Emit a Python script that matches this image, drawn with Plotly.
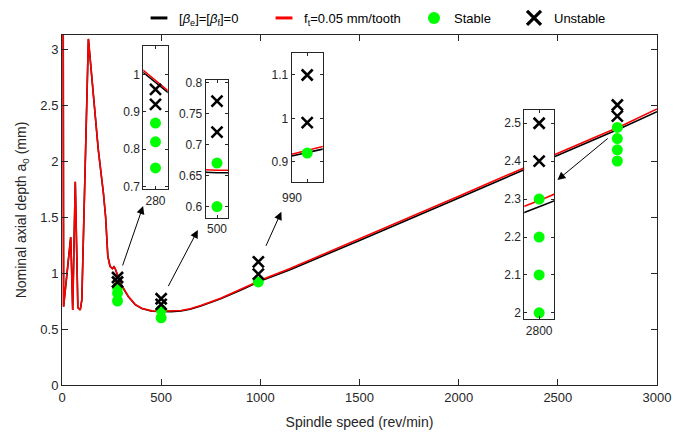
import plotly.graph_objects as go

# ---------------- data ----------------
rpm_curve = [6, 8, 44, 54, 67, 80, 92, 100, 133, 158, 183, 209, 220, 231, 242, 254, 262, 268,
             274, 280, 286, 301, 335, 369, 402, 453, 490, 500, 510, 550, 600, 646, 700, 800, 900,
             980, 990, 1000, 1150, 1500, 2000, 2500, 2780, 2800, 2820, 3000]
depth_red = [3.4, 0.70, 1.32, 0.67, 1.815, 0.69, 0.67, 0.76, 3.09, 2.57, 2.10, 1.71, 1.50, 1.15, 1.06, 1.04, 1.055, 1.04,
             1.011, 0.984, 0.956, 0.89, 0.79, 0.72, 0.685, 0.662, 0.6585, 0.6585, 0.6585, 0.659, 0.665, 0.68, 0.71, 0.775, 0.85,
             0.917, 0.926, 0.935, 1.04, 1.305, 1.685, 2.07, 2.28, 2.296, 2.3125, 2.465]
depth_black = [3.4, 0.70, 1.32, 0.67, 1.815, 0.69, 0.67, 0.76, 3.09, 2.57, 2.10, 1.71, 1.50, 1.15, 1.06, 1.04, 1.055, 1.04,
               1.005, 0.979, 0.952, 0.886, 0.787, 0.717, 0.682, 0.658, 0.6545, 0.6545, 0.6545, 0.655, 0.661, 0.676, 0.706, 0.77, 0.845,
               0.913, 0.921, 0.929, 1.03, 1.29, 1.67, 2.05, 2.264, 2.28, 2.295, 2.44]

stable_rpm = [280, 280, 280, 500, 500, 990, 2800, 2800, 2800, 2800]
stable_depth = [0.75, 0.82, 0.87, 0.60, 0.67, 0.92, 2.0, 2.1, 2.2, 2.3]
unstable_rpm = [280, 280, 500, 500, 990, 990, 2800, 2800]
unstable_depth = [0.92, 0.96, 0.72, 0.77, 0.99, 1.10, 2.4, 2.5]

x_ticks = [0, 500, 1000, 1500, 2000, 2500, 3000]
y_ticks = [0, 0.5, 1, 1.5, 2, 2.5, 3]

# insets: x range, y range, x tick, y ticks
inset_xrange = [[274, 286], [490, 510], [980, 1000], [2780, 2820]]
inset_yrange = [[0.693, 1.076], [0.582, 0.804], [0.8525, 1.15], [1.983, 2.535]]
inset_xtick = [280, 500, 990, 2800]
inset_yticks = [[0.7, 0.8, 0.9, 1.0], [0.6, 0.65, 0.7, 0.75, 0.8], [0.9, 1.0, 1.1], [2.0, 2.1, 2.2, 2.3, 2.4, 2.5]]
inset_yticktext = [["0.7", "0.8", "0.9", "1"], ["0.6", "0.65", "0.7", "0.75", "0.8"], ["0.9", "1", "1.1"],
                   ["2", "2.1", "2.2", "2.3", "2.4", "2.5"]]

legend_names = ["[<i>β</i><sub>e</sub>]=[<i>β</i><sub>f</sub>]=0", "f<sub>t</sub>=0.05 mm/tooth", "Stable", "Unstable"]

# ---------------- style ----------------
FONT = "Liberation Sans, Arial, Helvetica, sans-serif"
AX = "#262626"
GREEN = "#00ff00"
W, H = 686, 434
ML, MR, MT, MB = 62, 29, 35, 49
PW, PH = W - ML - MR, H - MT - MB

def px_dom_x(a, b):
    return [(a - ML) / PW, (b - ML) / PW]

def px_dom_y(top, bot):
    return [(H - MB - bot) / PH, (H - MB - top) / PH]

inset_px = [(143.3, 167.7, 46, 189.3), (205.7, 228.3, 80, 217.7), (291.7, 322.7, 53.3, 182.3), (524.3, 554, 110, 319.3)]

fig = go.Figure()

# main curves
fig.add_trace(go.Scatter(x=rpm_curve, y=depth_black, mode="lines", line=dict(color="black", width=1.6),
                         showlegend=False, hoverinfo="skip"))
fig.add_trace(go.Scatter(x=rpm_curve, y=depth_red, mode="lines", line=dict(color="red", width=1.6),
                         showlegend=False, hoverinfo="skip"))
fig.add_trace(go.Scatter(x=stable_rpm, y=stable_depth, mode="markers",
                         marker=dict(color=GREEN, size=11, line=dict(width=0)), showlegend=False))
fig.add_trace(go.Scatter(x=unstable_rpm, y=unstable_depth, mode="markers",
                         marker=dict(symbol="x-thin", color="black", size=11, line=dict(width=2.6, color="black")),
                         showlegend=False))

# legend entries (separate legends to mimic MATLAB spacing)
fig.add_trace(go.Scatter(x=[None], y=[None], mode="markers", name=legend_names[0], legend="legend",
                         marker=dict(symbol="line-ew", size=12, line=dict(width=3, color="black"))))
fig.add_trace(go.Scatter(x=[None], y=[None], mode="markers", name=legend_names[1], legend="legend2",
                         marker=dict(symbol="line-ew", size=12, line=dict(width=3, color="red"))))
fig.add_trace(go.Scatter(x=[None], y=[None], mode="markers", name=legend_names[2], legend="legend3",
                         marker=dict(color=GREEN, size=12, line=dict(width=0))))
fig.add_trace(go.Scatter(x=[None], y=[None], mode="markers", name=legend_names[3], legend="legend4",
                         marker=dict(symbol="x-thin", color="black", size=14, line=dict(width=3.2, color="black"))))

# insets
for i in range(4):
    k = i + 2
    xa, ya = f"x{k}", f"y{k}"
    xr, yr = inset_xrange[i], inset_yrange[i]
    fig.add_trace(go.Scatter(x=[xr[0], xr[1], xr[1], xr[0], xr[0]], y=[yr[0], yr[0], yr[1], yr[1], yr[0]],
                             mode="lines", fill="toself", fillcolor="white", line=dict(width=0),
                             xaxis=xa, yaxis=ya, showlegend=False, hoverinfo="skip"))
    fig.add_trace(go.Scatter(x=rpm_curve, y=depth_black, mode="lines", line=dict(color="black", width=1.6),
                             xaxis=xa, yaxis=ya, showlegend=False, hoverinfo="skip"))
    fig.add_trace(go.Scatter(x=rpm_curve, y=depth_red, mode="lines", line=dict(color="red", width=1.6),
                             xaxis=xa, yaxis=ya, showlegend=False, hoverinfo="skip"))
    fig.add_trace(go.Scatter(x=stable_rpm, y=stable_depth, mode="markers", xaxis=xa, yaxis=ya,
                             marker=dict(color=GREEN, size=11, line=dict(width=0)), showlegend=False))
    fig.add_trace(go.Scatter(x=unstable_rpm, y=unstable_depth, mode="markers", xaxis=xa, yaxis=ya,
                             marker=dict(symbol="x-thin", color="black", size=11, line=dict(width=2.6, color="black")),
                             showlegend=False))

axis_common = dict(showline=True, linecolor=AX, linewidth=1, mirror="ticks", ticks="inside",
                   tickcolor=AX, showgrid=False, zeroline=False, automargin=False,
                   tickfont=dict(family=FONT, size=13, color=AX))

layout = dict(
    width=W, height=H, margin=dict(l=ML, r=MR, t=MT, b=MB, pad=0, autoexpand=False),
    paper_bgcolor="white", plot_bgcolor="white",
    font=dict(family=FONT, size=13, color=AX),
    xaxis=dict(axis_common, range=[0, 3000], tickvals=x_ticks, ticklen=6,
               title=dict(text="Spindle speed (rev/min)", font=dict(size=14, color=AX), standoff=13)),
    yaxis=dict(axis_common, range=[0, 3.125], tickvals=y_ticks, ticklen=6,
               title=dict(text="Nominal axial depth a<sub>0</sub> (mm)", font=dict(size=14, color=AX), standoff=10)),
)

for i in range(4):
    k = i + 2
    x0, x1, y0, y1 = inset_px[i]
    xt_text = [""] if i == 2 else [str(inset_xtick[i])]
    layout[f"xaxis{k}"] = dict(axis_common, domain=px_dom_x(x0, x1), anchor=f"y{k}", range=inset_xrange[i],
                               tickvals=[inset_xtick[i]], ticktext=xt_text, ticklen=3,
                               tickfont=dict(family=FONT, size=12, color=AX))
    layout[f"yaxis{k}"] = dict(axis_common, domain=px_dom_y(y0, y1), anchor=f"x{k}", range=inset_yrange[i],
                               tickvals=inset_yticks[i], ticktext=inset_yticktext[i], ticklen=3,
                               tickfont=dict(family=FONT, size=12, color=AX))

# legends (container coordinates so they do not push the margins)
leg_x_px = [139, 264, 414, 514]
for j, lx in enumerate(leg_x_px):
    key = "legend" if j == 0 else f"legend{j + 1}"
    layout[key] = dict(orientation="h", xref="container", yref="container", x=lx / W, xanchor="left",
                       y=1 - 18 / H, yanchor="middle",
                       bgcolor="rgba(0,0,0,0)", borderwidth=0, font=dict(family=FONT, size=13, color="black"),
                       itemclick=False)

fig.update_layout(**layout)

# arrows (main data coordinates)
arrows = [((303, 1.054), (409, 1.598)), ((532, 0.869), (685, 1.384)),
          ((1025, 1.229), (1106, 1.547)), ((2759, 2.212), (2498, 1.830))]
for (tx, ty), (hx, hy) in arrows:
    fig.add_annotation(x=hx, y=hy, ax=tx, ay=ty, xref="x", yref="y", axref="x", ayref="y",
                       showarrow=True, arrowhead=2, arrowsize=1.6, arrowwidth=1, arrowcolor="black", text="")

# inset 990 tick label (sits left of the tick in the reference)
fig.add_annotation(x=(292 - ML) / PW, y=(H - MB - 198) / PH, xref="paper", yref="paper", text="990",
                   showarrow=False, font=dict(family=FONT, size=12, color=AX))

fig.write_html("out.html", config={"displayModeBar": False},
               post_script="document.body.style.margin='0px';")
